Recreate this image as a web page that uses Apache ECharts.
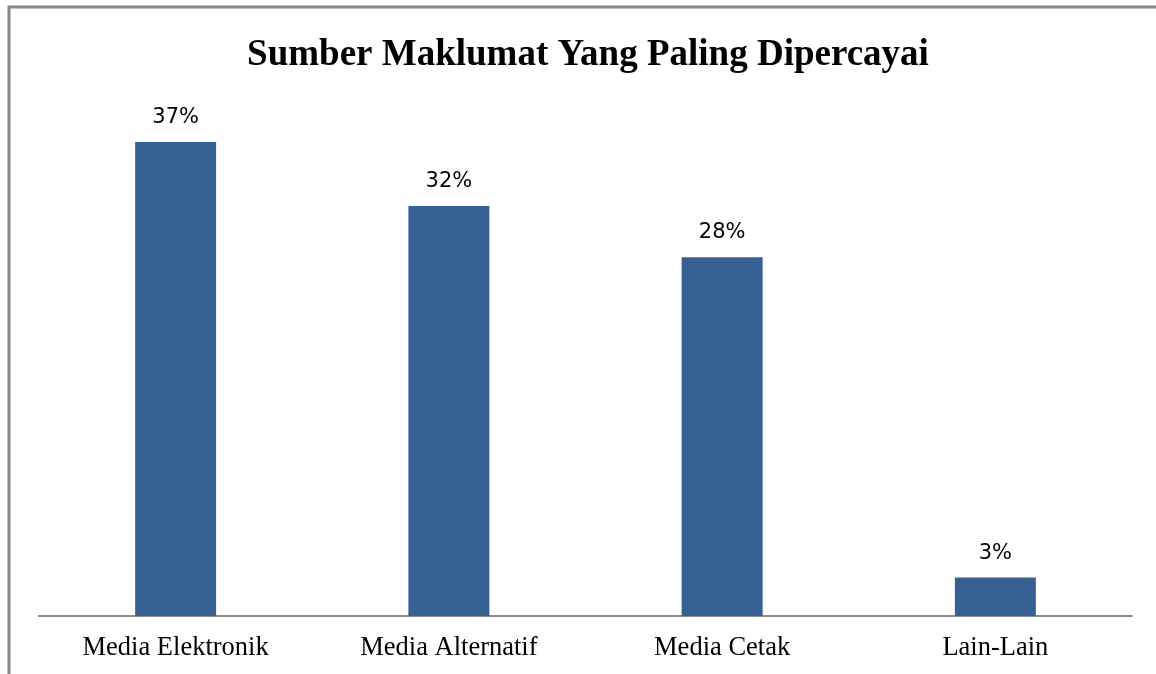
<!DOCTYPE html>
<html><head><meta charset="utf-8">
<script src="https://cdn.jsdelivr.net/npm/echarts@6/dist/echarts.min.js"></script>
<style>html,body{margin:0;padding:0;background:#fff}#c{width:1156px;height:674px}</style>
</head><body><div id="c"></div>
<script>
const categories = ['Media Elektronik', 'Media Alternatif', 'Media Cetak', 'Lain-Lain'];
const values = [37, 32, 28, 3];
const titleText = 'Sumber Maklumat Yang Paling Dipercayai';

const chart = echarts.init(document.getElementById('c'), null, {renderer: 'canvas'});
chart.setOption({
  animation: false,
  backgroundColor: '#fff',
  title: {
    text: titleText, left: 583, top: 32, textAlign: 'center',
    textStyle: {fontFamily: 'Liberation Serif', fontWeight: 'bold', fontSize: 37, color: '#000'}
  },
  graphic: [{
    type: 'rect', shape: {x: 9, y: 7, width: 1200, height: 700},
    style: {fill: 'none', stroke: '#878787', lineWidth: 3}, silent: true
  }],
  grid: {left: 39, right: 24, top: 103.6, bottom: 58, containLabel: false},
  xAxis: {
    type: 'category', data: categories,
    axisLine: {lineStyle: {color: '#8c8c8c', width: 2}},
    axisTick: {show: false},
    axisLabel: {fontFamily: 'Liberation Serif', fontSize: 26.5, color: '#000', margin: 19}
  },
  yAxis: {
    type: 'value', min: 0, max: 40, show: false, splitLine: {show: false}
  },
  series: [{
    type: 'bar', data: values, barWidth: 81,
    itemStyle: {color: '#376092'},
    label: {
      show: true, position: 'top', distance: 14, formatter: '{c}%',
      fontFamily: 'DejaVu Sans', fontSize: 21, color: '#000'
    }
  }]
});
</script></body></html>
